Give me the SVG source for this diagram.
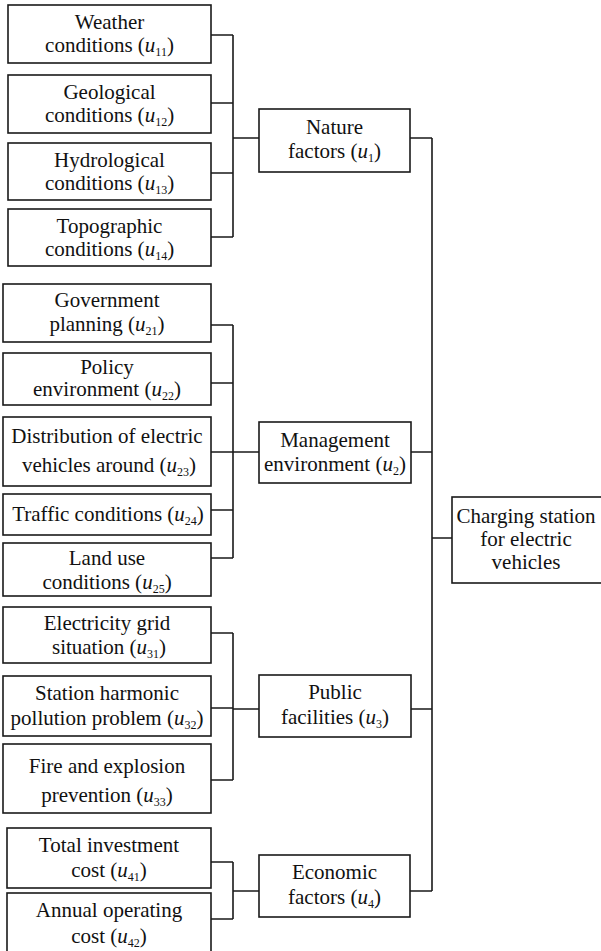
<svg xmlns="http://www.w3.org/2000/svg" width="601" height="951" viewBox="0 0 601 951">
<style>
rect{fill:#fff;stroke:#1a1a1a;stroke-width:1.6}
.c{fill:none;stroke:#1a1a1a;stroke-width:1.6}
text{font-family:'Liberation Serif',Tinos,'Times New Roman','DejaVu Serif',serif;font-size:21px;fill:#111;text-anchor:middle}
.i{font-style:italic}
.s{font-size:12px}
</style>
<rect x="0" y="0" width="601" height="951" style="stroke:none"/>
<g id="connectors">
<path class="c" d="M211,35H233M211,103H233M211,173H233M211,237H233M233,35V237M233,138H259M410,138H432"/>
<path class="c" d="M211,325H233M211,383H233M211,452H233M211,510H233M211,558H233M233,325V558M233,452H259M411,452H432"/>
<path class="c" d="M211,633H233M211,708H233M211,780H233M233,633V780M233,709H259M411,709H432"/>
<path class="c" d="M211,862H233M211,919H233M233,862V919M233,891H259M410,891H432"/>
<path class="c" d="M432,138V891M432,538H452"/>
</g>
<g id="u11"><rect x="8" y="5" width="203" height="58"/><text x="109.5" y="29">Weather</text><text x="109.5" y="52">conditions (<tspan class="i">u</tspan><tspan class="s" dy="4">11</tspan><tspan dy="-4">)</tspan></text></g>
<g id="u12"><rect x="8" y="75" width="203" height="58"/><text x="109.5" y="99">Geological</text><text x="109.5" y="122">conditions (<tspan class="i">u</tspan><tspan class="s" dy="4">12</tspan><tspan dy="-4">)</tspan></text></g>
<g id="u13"><rect x="8" y="143" width="203" height="57"/><text x="109.5" y="167">Hydrological</text><text x="109.5" y="190">conditions (<tspan class="i">u</tspan><tspan class="s" dy="4">13</tspan><tspan dy="-4">)</tspan></text></g>
<g id="u14"><rect x="8" y="209" width="203" height="57"/><text x="109.5" y="233">Topographic</text><text x="109.5" y="256">conditions (<tspan class="i">u</tspan><tspan class="s" dy="4">14</tspan><tspan dy="-4">)</tspan></text></g>
<g id="u1"><rect x="259" y="109" width="151" height="63"/><text x="334.5" y="134">Nature</text><text x="334.5" y="158">factors (<tspan class="i">u</tspan><tspan class="s" dy="4">1</tspan><tspan dy="-4">)</tspan></text></g>

<g id="u21"><rect x="3" y="284" width="208" height="58"/><text x="107" y="307">Government</text><text x="107" y="331">planning (<tspan class="i">u</tspan><tspan class="s" dy="4">21</tspan><tspan dy="-4">)</tspan></text></g>
<g id="u22"><rect x="3" y="353" width="208" height="52"/><text x="107" y="374">Policy</text><text x="107" y="396">environment (<tspan class="i">u</tspan><tspan class="s" dy="4">22</tspan><tspan dy="-4">)</tspan></text></g>
<g id="u23"><rect x="3" y="417" width="208" height="69"/><text x="107" y="443">Distribution of electric</text><text x="109" y="472">vehicles around (<tspan class="i">u</tspan><tspan class="s" dy="4">23</tspan><tspan dy="-4">)</tspan></text></g>
<g id="u24"><rect x="3" y="494" width="208" height="41"/><text x="108" y="521">Traffic conditions (<tspan class="i">u</tspan><tspan class="s" dy="4">24</tspan><tspan dy="-4">)</tspan></text></g>
<g id="u25"><rect x="3" y="543" width="208" height="53"/><text x="107" y="565">Land use</text><text x="107" y="589">conditions (<tspan class="i">u</tspan><tspan class="s" dy="4">25</tspan><tspan dy="-4">)</tspan></text></g>
<g id="u2"><rect x="259" y="422" width="152" height="61"/><text x="335" y="447">Management</text><text x="335" y="471">environment (<tspan class="i">u</tspan><tspan class="s" dy="4">2</tspan><tspan dy="-4">)</tspan></text></g>

<g id="charging"><rect x="452" y="497" width="152" height="86"/><text x="526" y="523">Charging station</text><text x="526" y="546">for electric</text><text x="526" y="569">vehicles</text></g>

<g id="u31"><rect x="3" y="607" width="208" height="56"/><text x="107" y="630">Electricity grid</text><text x="109" y="654">situation (<tspan class="i">u</tspan><tspan class="s" dy="4">31</tspan><tspan dy="-4">)</tspan></text></g>
<g id="u32"><rect x="3" y="676" width="208" height="60"/><text x="107" y="700">Station harmonic</text><text x="107" y="725">pollution problem (<tspan class="i">u</tspan><tspan class="s" dy="4">32</tspan><tspan dy="-4">)</tspan></text></g>
<g id="u33"><rect x="3" y="744" width="208" height="69"/><text x="107" y="773">Fire and explosion</text><text x="107" y="802">prevention (<tspan class="i">u</tspan><tspan class="s" dy="4">33</tspan><tspan dy="-4">)</tspan></text></g>
<g id="u3"><rect x="259" y="675" width="152" height="62"/><text x="335" y="699">Public</text><text x="335" y="724">facilities (<tspan class="i">u</tspan><tspan class="s" dy="4">3</tspan><tspan dy="-4">)</tspan></text></g>

<g id="u41"><rect x="7" y="828" width="204" height="60"/><text x="109" y="852">Total investment</text><text x="109" y="877">cost (<tspan class="i">u</tspan><tspan class="s" dy="4">41</tspan><tspan dy="-4">)</tspan></text></g>
<g id="u42"><rect x="7" y="893" width="204" height="70"/><text x="109" y="917">Annual operating</text><text x="109" y="943">cost (<tspan class="i">u</tspan><tspan class="s" dy="4">42</tspan><tspan dy="-4">)</tspan></text></g>
<g id="u4"><rect x="259" y="855" width="151" height="62"/><text x="334.5" y="879">Economic</text><text x="334.5" y="904">factors (<tspan class="i">u</tspan><tspan class="s" dy="4">4</tspan><tspan dy="-4">)</tspan></text></g>
</svg>
